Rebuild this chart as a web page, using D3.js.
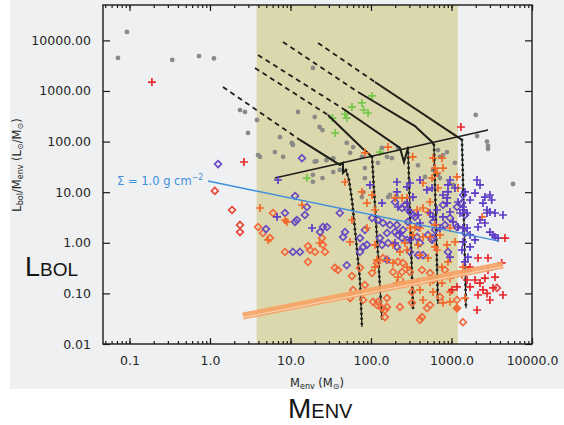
<!DOCTYPE html>
<html>
<head>
<meta charset="utf-8">
<script src="https://cdn.jsdelivr.net/npm/d3@7"></script>
<style>
  body { margin: 0; background: #fff; }
  svg { display: block; }
  text { font-family: "DejaVu Sans", sans-serif; }
</style>
</head>
<body>
<svg id="chart" width="564" height="425"></svg>
<script>
// x: Menv (Msun), y: Lbol/Menv (Lsun/Msun)
var xTickValues = [0.1, 1, 10, 100, 1000, 10000];
var xTickLabels = ["0.1", "1.0", "10.0", "100.0", "1000.0", "10000.0"];
var yTickValues = [0.01, 0.1, 1, 10, 100, 1000, 10000];
var yTickLabels = ["0.01", "0.10", "1.00", "10.00", "100.00", "1000.00", "10000.00"];
var shadeRange = [3.8, 1200];

var greyDots = [[0.072,4500],[0.093,14700],[0.34,4100],[0.73,4900],[1.12,4400],[2.36,420],[2.72,385],
  [3.84,267],[2.97,148],[4.18,50],[6.4,62],[8.1,50],[10.4,94],[12.4,385],[19,2850],[20,306],[23,194],
  [25,169],[20,40],[21,41],[34,47],[50,94],[60,78],[77,50],[122,38],[216,75],[384,34],[469,20],[25,19],
  [19,22],[680,68],[784,54],[1100,38],[34,25],[41,27.5],[2000,336],[2080,129],[2760,100],[2840,82],
  [2840,72],[720,50],[3.95,54],[28,43],[55,60],[84,30],[84,19],[80,10],[77,8],[137,75],[158,50],[182,47],
  [163,8],[210,8],[589,27.5],[680,22],[1045,14],[5800,14.5],[880,62],[172,8.8],[720,19],[19,16],[7.4,123],[10.7,86]];

var greenPlus = [[103,800],[58,483],[77,580],[81,421],[92,367],[47.5,351],[50,292],[33,292],[36,148],[129,62],[16,19]];

var redPlus = [[0.19,1500],[2.64,39.5],[1310,194],[2135,0.5],[2840,0.5],[4200,0.40],[1700,0.33],[1960,0.184],
  [2260,0.16],[2600,0.2],[2760,0.1],[2135,0.093],[2460,0.117],[4360,0.093],[2075,0.047],[4620,1.24],
  [1560,0.184],[1700,0.134],[2840,0.29],[3470,0.21],[3280,0.128],[3000,0.074],[1600,0.29],[1170,0.134],[1015,0.117]];

var orangePlus = [[4.18,4.87],[8.55,2.82],[13.9,5.58],[47.5,15.9],[89,6.1],[112,4.45],[89,1.96],[112,0.91],
  [199,7.7],[243,7.7],[280,7.7],[280,6.1],[541,6.4],[443,4.87],[373,4.45],[511,4.06],[573,19],[680,12.1],
  [443,15.2],[762,47],[661,24],[784,30],[1170,20],[1205,12.1],[305,1.96],[352,2.05],[406,1.96],[332,1.43],
  [443,1.30],[541,1.30],[624,2.25],[720,1.43],[958,1.96],[661,0.72],[880,0.91],[384,0.91],[280,0.72],
  [229,0.66],[188,0.91],[1105,1.04],[2400,3.24],[330,50],[84,60],[9.0,2.58],[58,2.82],[77,10.1],[103,8.8],
  [119,0.46],[112,0.33],[158,0.46],[188,0.40],[216,0.21],[210,0.16],[250,0.168],[323,0.16],[384,0.168],
  [406,0.117],[541,0.168],[589,0.107],[762,0.16],[958,0.107],[958,0.20],[511,0.50],[406,0.57],[280,0.33],
  [762,0.33],[905,0.42],[1170,0.051],[1350,0.23],[1390,0.33],[784,0.065],[443,0.074],[264,0.99],[624,0.83],
  [958,0.068],[1470,0.081],[55,1.04],[23,0.99],[5.25,1.14],[163,78],[589,47],[624,30]];

var purplePlus = [[2075,17.4],[2260,13.9],[1960,9.6],[2600,8.0],[3000,8.8],[2460,6.1],[2760,4.45],[2760,3.88],
  [3000,4.06],[3470,3.88],[4360,3.54],[2600,2.46],[3000,1.63],[3470,1.30],[3780,1.24],[1470,10.1],[1700,7.0],
  [1205,6.4],[1390,5.1],[1276,3.88],[1560,3.88],[880,6.1],[958,4.06],[784,3.24],[1045,2.58],[1205,2.05],
  [1560,1.96],[1700,1.43],[1390,1.04],[1700,0.83],[1350,0.72],[1600,0.52],[1470,0.42],[2260,2.82],[2135,2.05],
  [1960,1.14],[661,4.45],[589,3.24],[720,1.96],[496,11.1],[406,17.4],[332,8.0],[305,15.2],[280,6.1],[229,1.56],
  [305,1.14],[199,0.99],[1105,12.1],[905,13.9],[784,8.8],[958,0.52],[7.0,17.4],[18.5,1.96],[210,15.9],[280,12.7],
  [210,10.1],[216,5.1],[288,4.45],[384,3.54],[406,2.46],[541,3.88],[573,12.1],[880,7.7],[905,10.1],[1390,4.45],
  [1390,1.96],[3160,7.0],[3280,1.43],[97,13.9],[137,6.1],[958,17.4],[6.8,3.24]];

var purpleDiamonds = [[1.26,36],[13.9,47],[11.4,8.4],[16,5.1],[15.1,3.54],[8.55,3.88],[12,2.82],[11.4,2.58],
  [4.96,1.87],[25.3,2.05],[28.4,2.05],[23.3,1.63],[41,3.88],[47.5,1.63],[45,1.30],[73,1.24],[89,0.91],
  [10.7,0.66],[13.1,0.66],[50,0.36],[103,3.09],[80,0.83],[84,1.79],[122,2.82],[141,2.46],[172,2.25],[210,2.25],
  [158,1.56],[199,1.63],[243,1.24],[250,1.79],[305,4.06],[352,3.24],[280,1.14],[129,1.24],[137,0.91],[210,0.83],
  [73,0.66],[589,1.24],[624,1.79],[384,2.05],[784,5.58],[958,3.09],[1390,8.8],[1350,6.1],[1470,3.54],[1170,2.05],
  [1470,1.56],[216,1.43],[163,0.99],[288,2.58],[332,3.54],[373,1.30],[406,0.99],[511,1.43],[573,1.14],[264,5.58],
  [243,4.87],[199,6.4],[589,2.58],[830,2.25],[1170,5.1],[443,0.57],[905,0.66],[158,0.46],[305,0.66],[384,0.57]];

var orangeDiamonds = [[6.06,3.88],[3.95,2.05],[5.56,1.24],[8.55,0.66],[16.5,0.86],[20.2,0.66],[16.5,0.42],
  [24.6,1.24],[25.3,0.91],[26.8,0.66],[17.5,0.72],[35.7,0.32],[38.9,0.29],[58,0.22],[73,0.32],[103,0.253],
  [60,0.117],[55,0.081],[80,0.074],[106,0.068],[4.55,1.56],[84,0.147],[119,0.059],[137,0.051],[149,0.047],
  [158,0.054],[158,0.081],[229,0.054],[323,0.065],[430,0.034],[406,0.030],[541,0.059],[496,0.051],[720,0.085],
  [1170,0.074],[323,0.107],[250,0.40],[188,0.265],[305,0.265],[430,0.29],[541,0.253],[119,0.40],[589,0.184],
  [830,0.29],[1390,0.027],[122,0.068],[149,0.034],[1170,0.051],[243,0.265],[216,0.42],[141,0.50]];

var redDiamonds = [[1.15,10.6],[1.88,4.45],[2.36,2.25],[2.36,1.63],[3675,0.128]];

// evolutionary tracks: dashed start, solid part, dotted drop
var tracks = [
  {dash: [[1.45,1200],[13.1,108]],
   solid: [[13.1,108],[41.2,34.5],[44.9,37.8],[44.9,24],[48.9,27.5]],
   drop: [[48.9,27.5],[53.3,17.4],[58.1,7.0],[65.2,1.14],[73,0.184],[77.3,0.0217]]},
  {dash: [[3.62,2850],[29.2,336]],
   solid: [[29.2,336],[77.3,74.8],[91.8,59.5],[103,49.6]],
   drop: [[103,49.6],[137,0.030]]},
  {dash: [[3.95,5140],[43.6,461]],
   solid: [[43.6,461],[229,74.8],[257,39.5],[288,74.8]],
   drop: [[288,74.8],[333,0.049]]},
  {dash: [[8.07,9290],[69,955]],
   solid: [[69,955],[352,203],[384,177],[573,98],[606,85.7]],
   drop: [[606,85.7],[679,0.062]]},
  {dash: [[22,8890],[112,1506]],
   solid: [[112,1506],[1350,108]],
   drop: [[1350,108],[1514,0.051]]}
];

var blackLine = [[6.4,19.1],[2840,169]];
var sigmaLine = [[0.945,16.6],[3780,1.09]];
var fitBand = [[2.57,0.0357],[4360,0.364]];

(function draw() {
var svg = d3.select("#chart");
var pLeft = 103, pRight = 532, pTop = 5, pBottom = 344;

var x = d3.scaleLog().domain([0.0469, 10000]).range([pLeft, pRight]);
var y = d3.scaleLog().domain([0.01, 50000]).range([pBottom, pTop]);

// backgrounds
svg.append("rect").attr("x", 10).attr("y", 0).attr("width", 554).attr("height", 389).attr("fill", "#eef0f1");
svg.append("rect")
    .attr("x", x(shadeRange[0])).attr("y", pTop)
    .attr("width", x(shadeRange[1]) - x(shadeRange[0]))
    .attr("height", pBottom - pTop)
    .attr("fill", "#dcd8ae");

var line = d3.line().x(d => x(d[0])).y(d => y(d[1]));
var plot = svg.append("g");

plot.selectAll("circle.grey").data(greyDots).enter().append("circle")
    .attr("class", "grey")
    .attr("cx", d => x(d[0])).attr("cy", d => y(d[1])).attr("r", 2.4)
    .attr("fill", "#8a8a86");

function plus(sel, data, color) {
    sel.selectAll(null).data(data).enter().append("path")
        .attr("d", d => {
            var px = x(d[0]), py = y(d[1]), s = 4;
            return "M" + (px - s) + "," + py + "H" + (px + s) + "M" + px + "," + (py - s) + "V" + (py + s);
        })
        .attr("stroke", color).attr("stroke-width", 1.7).attr("fill", "none");
}

function diamond(sel, data, color) {
    sel.selectAll(null).data(data).enter().append("path")
        .attr("d", d => {
            var px = x(d[0]), py = y(d[1]), s = 3.4;
            return "M" + px + "," + (py - s) + "L" + (px + s) + "," + py + "L" + px + "," + (py + s) + "L" + (px - s) + "," + py + "Z";
        })
        .attr("stroke", color).attr("stroke-width", 1.7).attr("fill", "none");
}

plus(plot, greenPlus, "#74c84a");

// tracks
tracks.forEach(function(t) {
    plot.append("path").attr("d", line(t.dash))
        .attr("fill", "none").attr("stroke", "#1e1e1a").attr("stroke-width", 1.8)
        .attr("stroke-dasharray", "5,4");
    plot.append("path").attr("d", line(t.solid))
        .attr("fill", "none").attr("stroke", "#1e1e1a").attr("stroke-width", 2);
    var drop = plot.append("path").attr("d", line(t.drop))
        .attr("fill", "none").attr("stroke", "#1e1e1a").attr("stroke-width", 1.2);
    var node = drop.node(), len = node.getTotalLength(), pts = [];
    for (var l = 0; l <= len; l += 5) pts.push(node.getPointAtLength(l));
    plot.selectAll(null).data(pts).enter().append("circle")
        .attr("cx", p => p.x).attr("cy", p => p.y).attr("r", 1.4).attr("fill", "#1e1e1a");
});

plot.append("path").attr("d", line(blackLine))
    .attr("fill", "none").attr("stroke", "#1e1e1a").attr("stroke-width", 1.6);

diamond(plot, orangeDiamonds, "#f26a3c");
diamond(plot, redDiamonds, "#e8463c");
diamond(plot, purpleDiamonds, "#6a4cc2");
plus(plot, orangePlus, "#f3692a");
plus(plot, purplePlus, "#5e3cc6");
plus(plot, redPlus, "#e8282c");

// fit band
plot.append("path").attr("d", line(fitBand))
    .attr("fill", "none").attr("stroke", "#f6a466").attr("stroke-width", 7).attr("opacity", 0.92);
plot.append("path").attr("d", line(fitBand)).attr("transform", "translate(0,1.5)")
    .attr("fill", "none").attr("stroke", "#fbd8bc").attr("stroke-width", 1);

// sigma line
plot.append("path").attr("d", line(sigmaLine))
    .attr("fill", "none").attr("stroke", "#3e8fdc").attr("stroke-width", 1.4);
var sig = svg.append("text").attr("x", x(sigmaLine[0][0]) - 91).attr("y", y(sigmaLine[0][1]) + 4)
    .attr("font-size", 11.5).attr("fill", "#3e8fdc");
sig.append("tspan").text("\u03a3 = 1.0 g cm");
sig.append("tspan").attr("dy", -5).attr("font-size", 8).text("\u22122");

// axes
var axes = svg.append("g").attr("color", "#1a1a1a");
function styleAxis(g) {
    g.select(".domain").remove();
    g.selectAll("line").attr("stroke-width", 1.2);
}
axes.append("g").attr("transform", "translate(0," + pBottom + ")")
    .call(d3.axisBottom(x).tickValues(x.ticks()).tickSize(-3).tickFormat(""))
    .call(styleAxis);
axes.append("g").attr("transform", "translate(0," + pBottom + ")")
    .call(d3.axisBottom(x).tickValues(xTickValues).tickSize(-6).tickPadding(12)
        .tickFormat((d, i) => xTickLabels[i]))
    .call(styleAxis);
axes.append("g").attr("transform", "translate(0," + pTop + ")")
    .call(d3.axisTop(x).tickValues(x.ticks()).tickSize(-3).tickFormat(""))
    .call(styleAxis);
axes.append("g").attr("transform", "translate(0," + pTop + ")")
    .call(d3.axisTop(x).tickValues(xTickValues).tickSize(-6).tickFormat(""))
    .call(styleAxis);
axes.append("g").attr("transform", "translate(" + pLeft + ",0)")
    .call(d3.axisLeft(y).tickValues(yTickValues).tickSize(-7).tickPadding(12)
        .tickFormat((d, i) => yTickLabels[i]))
    .call(styleAxis);
axes.append("g").attr("transform", "translate(" + pRight + ",0)")
    .call(d3.axisRight(y).tickValues(yTickValues).tickSize(-7).tickFormat(""))
    .call(styleAxis);
axes.selectAll("text").attr("font-size", 12.5).attr("fill", "#262626")
    .attr("font-family", "DejaVu Sans, sans-serif");
axes.append("rect").attr("x", pLeft).attr("y", pTop).attr("width", pRight - pLeft).attr("height", pBottom - pTop)
    .attr("fill", "none").attr("stroke", "#1a1a1a").attr("stroke-width", 1.4);

// axis titles
var xt = svg.append("text").attr("x", 317).attr("y", 387).attr("text-anchor", "middle")
    .attr("font-size", 11.5).attr("fill", "#262626");
xt.append("tspan").text("M");
xt.append("tspan").attr("font-size", 8).attr("dy", 2).text("env");
xt.append("tspan").attr("dy", -2).text(" (M");
xt.append("tspan").attr("font-size", 8).attr("dy", 2).text("\u2299");
xt.append("tspan").attr("dy", -2).text(")");

var yt = svg.append("text").attr("transform", "translate(21,165) rotate(-90)").attr("text-anchor", "middle")
    .attr("font-size", 11.5).attr("fill", "#262626");
yt.append("tspan").text("L");
yt.append("tspan").attr("font-size", 8).attr("dy", 2).text("bol");
yt.append("tspan").attr("dy", -2).text("/M");
yt.append("tspan").attr("font-size", 8).attr("dy", 2).text("env");
yt.append("tspan").attr("dy", -2).text(" (L");
yt.append("tspan").attr("font-size", 8).attr("dy", 2).text("\u2299");
yt.append("tspan").attr("dy", -2).text("/M");
yt.append("tspan").attr("font-size", 8).attr("dy", 2).text("\u2299");
yt.append("tspan").attr("dy", -2).text(")");

// big labels
var lb = svg.append("text").attr("x", 25).attr("y", 276).attr("fill", "#141414")
    .style("font-family", "Liberation Sans, sans-serif");
lb.append("tspan").attr("font-size", 27).text("L");
lb.append("tspan").attr("font-size", 19).text("BOL");

var mb = svg.append("text").attr("x", 288).attr("y", 418).attr("fill", "#141414")
    .style("font-family", "Liberation Sans, sans-serif");
mb.append("tspan").attr("font-size", 28).text("M");
mb.append("tspan").attr("font-size", 20).text("ENV");
})();
</script>
</body>
</html>
